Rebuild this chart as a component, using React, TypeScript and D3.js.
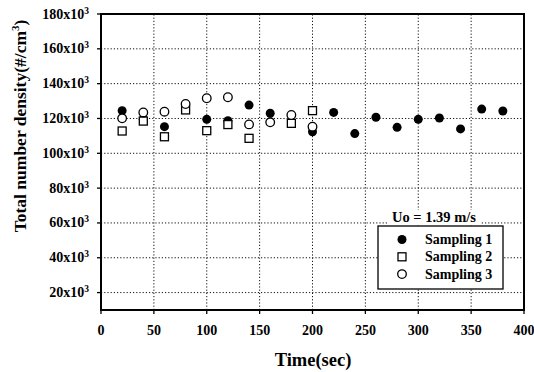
import React from 'react';
import * as d3 from 'd3';

const xTicks = [0, 50, 100, 150, 200, 250, 300, 350, 400];
const yTicks = [20, 40, 60, 80, 100, 120, 140, 160, 180];

// values in units of 10^3 #/cm^3
const s1Time = [20, 40, 60, 100, 120, 140, 160, 200, 220, 240, 260, 280, 300, 320, 340, 360, 380];
const s1Value = [124.5, 119.5, 115.3, 119.5, 118.7, 127.7, 123, 112.4, 123.5, 111.3, 120.7, 114.9, 119.5, 120.3, 114, 125.4, 124.3];
const s2Time = [20, 40, 60, 80, 100, 120, 140, 180, 200];
const s2Value = [112.8, 118.5, 109.5, 124.9, 113, 116.5, 108.6, 117.2, 124.5];
const s3Time = [20, 40, 60, 80, 100, 120, 140, 160, 180, 200];
const s3Value = [120.1, 123.5, 123.9, 128.3, 131.6, 132.2, 116.6, 117.8, 122, 115.3];

const seriesNames = ['Sampling 1', 'Sampling 2', 'Sampling 3'];

const W = 534;
const H = 372;
const font = '"Liberation Serif", "Times New Roman", serif';

const App = () => {
  const x = d3.scaleLinear().domain([0, 400]).range([101, 524]);
  const y = d3.scaleLinear().domain([10, 180]).range([310, 14]);

  const s1 = s1Time.map((t, i) => ({ t, v: s1Value[i] }));
  const s2 = s2Time.map((t, i) => ({ t, v: s2Value[i] }));
  const s3 = s3Time.map((t, i) => ({ t, v: s3Value[i] }));

  const marker = (kind, cx, cy, key) => {
    if (kind === 0) return <circle key={key} cx={cx} cy={cy} r={4.5} fill="#000" />;
    if (kind === 1)
      return <rect key={key} x={cx - 4} y={cy - 4} width={8} height={8} fill="#fff" stroke="#000" strokeWidth={1.3} />;
    return <circle key={key} cx={cx} cy={cy} r={4.3} fill="#fff" stroke="#000" strokeWidth={1.3} />;
  };

  const [x0, x1] = x.range();
  const [y0, y1] = y.range();

  return (
    <div style={{ position: 'fixed', left: 0, top: 0 }}>
      <svg width={W} height={H} style={{ display: 'block', background: '#fff' }} fontFamily={font}>
        {/* grid */}
        <g stroke="#111" strokeWidth={1} strokeDasharray="1.2,2">
          {xTicks.slice(1, -1).map(t => (
            <line key={'gx' + t} x1={x(t)} x2={x(t)} y1={y0} y2={y1} />
          ))}
          {yTicks.slice(0, -1).map(t => (
            <line key={'gy' + t} x1={x0} x2={x1} y1={y(t)} y2={y(t)} />
          ))}
        </g>

        {/* frame */}
        <rect x={x0} y={y1} width={x1 - x0} height={y0 - y1} fill="none" stroke="#000" strokeWidth={2} />

        {/* ticks */}
        <g stroke="#000" strokeWidth={1.3}>
          {xTicks.map(t => (
            <line key={'tx' + t} x1={x(t)} x2={x(t)} y1={y0} y2={y0 + 4} />
          ))}
          {yTicks.map(t => (
            <line key={'ty' + t} x1={x0 - 4} x2={x0} y1={y(t)} y2={y(t)} />
          ))}
        </g>

        {/* tick labels */}
        <g fontWeight="bold" fontSize={14} fill="#000">
          {xTicks.map(t => (
            <text key={'lx' + t} x={x(t)} y={335} textAnchor="middle">{t}</text>
          ))}
          {yTicks.map(t => (
            <text key={'ly' + t} x={89} y={y(t) + 4.5} textAnchor="end">
              {t}x10<tspan fontSize={9.5} dy={-5}>3</tspan>
            </text>
          ))}
        </g>

        {/* axis titles */}
        <text x={313} y={366} textAnchor="middle" fontWeight="bold" fontSize={18.5}>Time(sec)</text>
        <text transform="translate(26,126) rotate(-90)" textAnchor="middle" fontWeight="bold" fontSize={17.5}>
          Total number density(#/cm<tspan fontSize={11} dy={-7}>3</tspan><tspan dy={7}>)</tspan>
        </text>

        {/* data */}
        <g>
          {s1.map((d, i) => marker(0, x(d.t), y(d.v), 's1' + i))}
          {s2.map((d, i) => marker(1, x(d.t), y(d.v), 's2' + i))}
          {s3.map((d, i) => marker(2, x(d.t), y(d.v), 's3' + i))}
        </g>

        {/* legend */}
        <rect x={389} y={210} width={92} height={15} fill="#fff" />
        <text x={392} y={222} fontWeight="bold" fontSize={14.5}>Uo = 1.39 m/s</text>
        <rect x={378} y={226} width={125} height={63} fill="#fff" stroke="#000" strokeWidth={1.3} />
        {seriesNames.map((name, i) => (
          <g key={name}>
            {marker(i, 402, 239.5 + i * 17.3, 'lg' + i)}
            <text x={425} y={244 + i * 17.3} fontWeight="bold" fontSize={14}>{name}</text>
          </g>
        ))}
      </svg>
    </div>
  );
};

export default App;
